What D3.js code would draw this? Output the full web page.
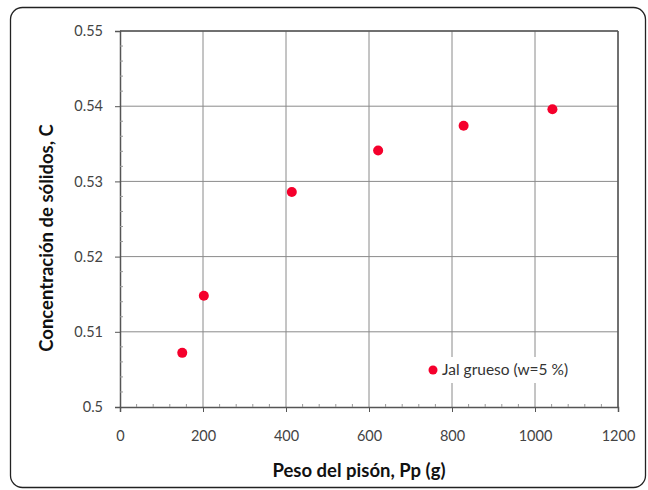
<!DOCTYPE html>
<html><head><meta charset="utf-8">
<script src="https://cdn.jsdelivr.net/npm/d3@7"></script>
<style>body{margin:0;background:#fff;} svg{display:block;font-family:Lato,"Open Sans",sans-serif;}</style>
</head><body>
<svg id="c" width="648" height="490"></svg>
<script>
const pesoPison = [150, 202, 414, 622, 828, 1042];
const concentracion = [0.5072, 0.5148, 0.5286, 0.5341, 0.5374, 0.5396];
const seriesName = "Jal grueso (w=5 %)";
const xTicks = [0, 200, 400, 600, 800, 1000, 1200];
const yTicks = [0.5, 0.51, 0.52, 0.53, 0.54, 0.55];
const xTitle = "Peso del pisón, Pp (g)";
const yTitle = "Concentración de sólidos, C";

const svg = d3.select("#c");
const m = {l:120, r:618, t:31, b:407};
const x = d3.scaleLinear().domain([0,1200]).range([m.l, m.r]);
const y = d3.scaleLinear().domain([0.5,0.55]).range([m.b, m.t]);

// outer frame
svg.append("rect").attr("x",10.5).attr("y",7.5).attr("width",635).attr("height",480)
  .attr("rx",12).attr("fill","#fff").attr("stroke","#222").attr("stroke-width",1.3);

// grid
const g = svg.append("g");
g.selectAll(".gx").data(xTicks.slice(1)).join("line")
  .attr("x1",d=>x(d)).attr("x2",d=>x(d)).attr("y1",m.t).attr("y2",m.b)
  .attr("stroke","#8a8a8a").attr("stroke-width",1);
g.selectAll(".gy").data(yTicks.slice(1)).join("line")
  .attr("y1",d=>y(d)).attr("y2",d=>y(d)).attr("x1",m.l).attr("x2",m.r)
  .attr("stroke","#8a8a8a").attr("stroke-width",1);

// plot border top/right
g.append("line").attr("x1",m.l).attr("x2",m.r).attr("y1",m.t).attr("y2",m.t).attr("stroke","#555").attr("stroke-width",1.5);
g.append("line").attr("x1",m.r).attr("x2",m.r).attr("y1",m.t).attr("y2",m.b).attr("stroke","#555").attr("stroke-width",1.5);

// axes
const xAxis = d3.axisBottom(x).tickValues(xTicks).tickSize(5).tickPadding(19).tickFormat(d3.format("d"));
const yAxis = d3.axisLeft(y).tickValues(yTicks).tickSize(5).tickPadding(12).tickFormat(d3.format("~g"));
const gx = svg.append("g").attr("transform",`translate(0,${m.b})`).call(xAxis);
const gy = svg.append("g").attr("transform",`translate(${m.l},0)`).call(yAxis);
[gx,gy].forEach(a=>{
  a.select(".domain").attr("stroke","#555").attr("stroke-width",1.5);
  a.selectAll(".tick line").attr("stroke","#555");
  a.selectAll("text").attr("font-size",14.5).attr("fill","#444").attr("font-family","Lato,'Open Sans',sans-serif");
});
// minor ticks
const xMinor = d3.range(0,1201,40).filter(v=>v%200!==0);
svg.append("g").selectAll("line").data(xMinor).join("line")
  .attr("x1",d=>x(d)).attr("x2",d=>x(d)).attr("y1",m.b).attr("y2",m.b-3).attr("stroke","#999");
const yMinor = d3.range(0,26).map(i=>0.5+i*0.002).filter((v,i)=>i%5!==0);
svg.append("g").selectAll("line").data(yMinor).join("line")
  .attr("y1",d=>y(d)).attr("y2",d=>y(d)).attr("x1",m.l).attr("x2",m.l+3).attr("stroke","#999");

// legend
const lx = 433, ly = 370;
svg.append("rect").attr("x",lx-10).attr("y",ly-13).attr("width",170).attr("height",26).attr("fill","#fff");
svg.append("circle").attr("cx",lx).attr("cy",ly).attr("r",4.5).attr("fill","#f5002c");
svg.append("text").attr("x",lx+9).attr("y",ly+5).attr("font-size",15.5).attr("fill","#333").text(seriesName);

// points
svg.append("g").selectAll("circle").data(pesoPison).join("circle")
  .attr("cx",d=>x(d)).attr("cy",(d,i)=>y(concentracion[i])).attr("r",5).attr("fill","#f5002c");

// titles
svg.append("text").attr("x",359).attr("y",477).attr("text-anchor","middle")
  .attr("font-size",18.5).attr("font-weight","bold").attr("fill","#111").text(xTitle);
svg.append("text").attr("transform",`translate(53,238) rotate(-90)`).attr("text-anchor","middle")
  .attr("font-size",18.5).attr("font-weight","bold").attr("fill","#111").text(yTitle);
</script>
</body></html>
